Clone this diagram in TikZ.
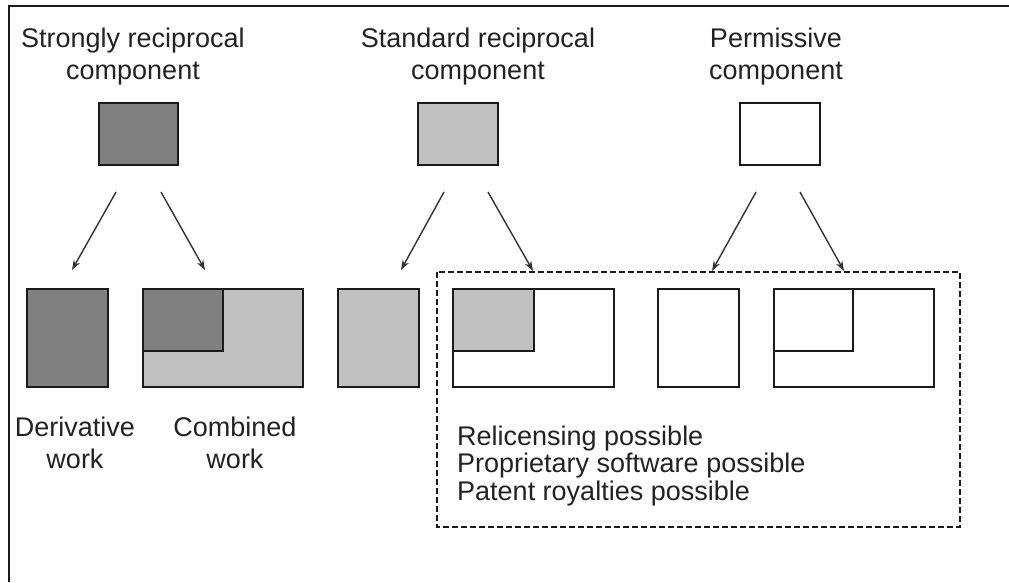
\documentclass[tikz,border=0pt]{standalone}
\usepackage{fontspec}
\setmainfont{Liberation Sans}
\usetikzlibrary{arrows.meta}
\definecolor{inkc}{HTML}{1A1A1A}
\definecolor{txtc}{HTML}{222222}
\definecolor{darkfill}{HTML}{808080}
\definecolor{lightfill}{HTML}{C0C0C0}
\definecolor{arrc}{HTML}{333333}
\begin{document}
\begin{tikzpicture}[x=1pt,y=-1pt,
  box/.style={draw=inkc,line width=2pt,inner sep=0pt,outer sep=0pt,anchor=north west},
  darkbox/.style={box,fill=darkfill},
  lightbox/.style={box,fill=lightfill},
  whitebox/.style={box,fill=white},
  arr/.style={draw=arrc,line width=1.4pt,-{Stealth[length=10pt,width=7pt]}},
  title/.style={text=txtc,align=center,anchor=base,inner sep=0pt,
    font=\fontsize{27}{32}\selectfont},
  note/.style={text=txtc,align=left,anchor=base west,inner sep=0pt,
    font=\fontsize{27}{27.5}\selectfont},
  region/.style={draw=inkc,line width=1.5pt,dash pattern=on 6pt off 3pt}]
\useasboundingbox (0,0) rectangle (1009,582);

% frame lines (top and left)
\draw[inkc,line width=2pt] (1009,6) -- (9,6) -- (9,582);

% component headings (anchor sits on the last line's baseline)
\node[title] (t1) at (133,79) {Strongly reciprocal\\component};
\node[title] (t2) at (478,79) {Standard reciprocal\\component};
\node[title] (t3) at (776,79) {Permissive\\component};

% component boxes
\node[darkbox,minimum width=79pt,minimum height=62pt] (c1) at (99,103) {};
\node[lightbox,minimum width=80pt,minimum height=62pt] (c2) at (418,103) {};
\node[whitebox,minimum width=80pt,minimum height=62pt] (c3) at (740,103) {};

% dashed region
\draw[region] (437,272) rectangle (960,527);

% resulting works
\node[darkbox,minimum width=81pt,minimum height=98pt] (d1) at (27,289) {};
\node[lightbox,minimum width=160pt,minimum height=98pt] (w1) at (143,289) {};
\node[darkbox,minimum width=80pt,minimum height=62pt] (w1i) at (143,289) {};

\node[lightbox,minimum width=81pt,minimum height=98pt] (d2) at (338,289) {};
\node[whitebox,minimum width=161pt,minimum height=98pt] (w2) at (453,289) {};
\node[lightbox,minimum width=81pt,minimum height=62pt] (w2i) at (453,289) {};

\node[whitebox,minimum width=81pt,minimum height=98pt] (d3) at (658,289) {};
\node[whitebox,minimum width=160pt,minimum height=98pt] (w3) at (774,289) {};
\node[whitebox,minimum width=79pt,minimum height=62pt] (w3i) at (774,289) {};

% arrow end points
\coordinate (c1l) at (116,192); \coordinate (d1t) at (72,270);
\coordinate (c1r) at (161,192); \coordinate (w1t) at (205,270);
\coordinate (c2l) at (444,192); \coordinate (d2t) at (401,270);
\coordinate (c2r) at (488,192); \coordinate (w2t) at (533,271);
\coordinate (c3l) at (756,192); \coordinate (d3t) at (712,271);
\coordinate (c3r) at (800,192); \coordinate (w3t) at (844,271);

\draw[arr] (c1l) -- (d1t);
\draw[arr] (c1r) -- (w1t);
\draw[arr] (c2l) -- (d2t);
\draw[arr] (c2r) -- (w2t);
\draw[arr] (c3l) -- (d3t);
\draw[arr] (c3r) -- (w3t);

% labels
\node[title] (l1) at (75,468) {Derivative\\work};
\node[title] (l2) at (235,468) {Combined\\work};

\node[note] (n1) at (457,500) {Relicensing possible\\Proprietary software possible\\Patent royalties possible};
\end{tikzpicture}
\end{document}
